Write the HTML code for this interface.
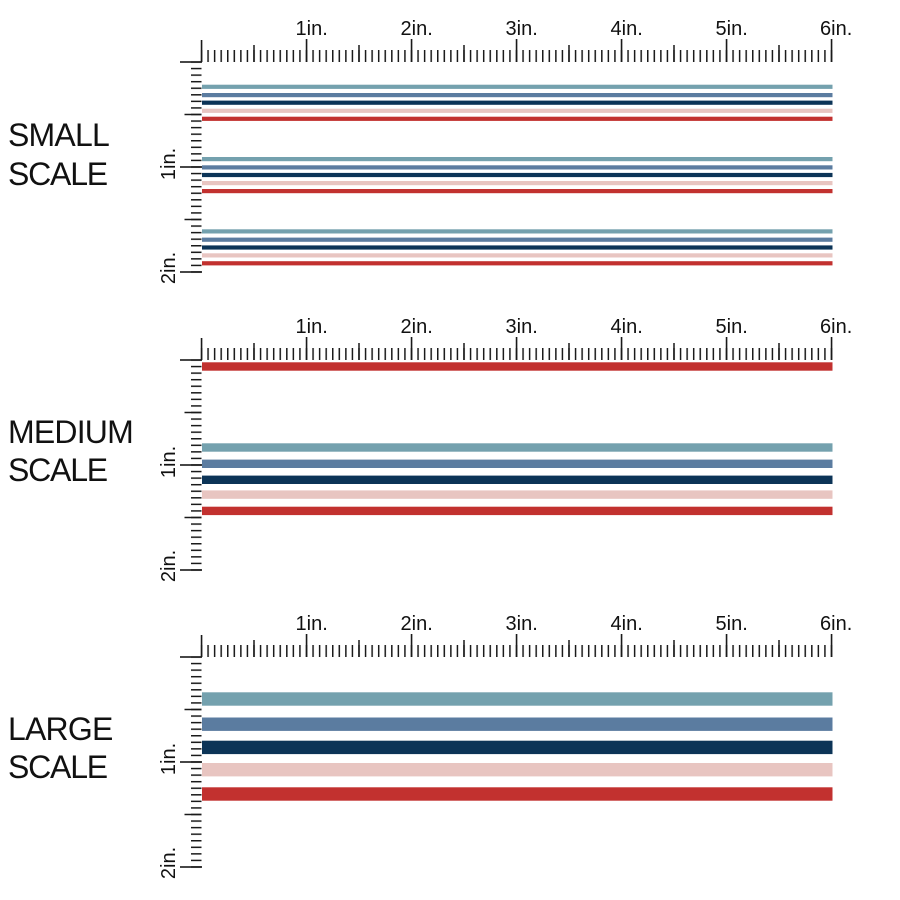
<!DOCTYPE html>
<html>
<head>
<meta charset="utf-8">
<style>
  html, body { margin: 0; padding: 0; background: #ffffff; }
  svg { display: block; }
  text { font-family: "Liberation Sans", Arial, sans-serif; fill: #111; }
</style>
</head>
<body>
<svg width="900" height="900" viewBox="0 0 900 900" xmlns="http://www.w3.org/2000/svg">
  <defs>
    <pattern id="hp" patternUnits="userSpaceOnUse" x="200.75" y="0" width="6.5625" height="40">
      <rect x="0" y="-20" width="1.5" height="80" fill="#1a1a1a"/>
    </pattern>
    <pattern id="vp" patternUnits="userSpaceOnUse" x="0" y="-0.75" width="40" height="6.5625">
      <rect x="-20" y="0" width="80" height="1.5" fill="#1a1a1a"/>
    </pattern>
    <g id="ruler" fill="#1a1a1a">
      <!-- horizontal minor ticks -->
      <rect x="200.75" y="-12" width="632" height="12" fill="url(#hp)"/>
      <!-- half inch ticks -->
      <rect x="253.25" y="-17" width="1.5" height="17"/>
      <rect x="358.25" y="-17" width="1.5" height="17"/>
      <rect x="463.25" y="-17" width="1.5" height="17"/>
      <rect x="568.25" y="-17" width="1.5" height="17"/>
      <rect x="673.25" y="-17" width="1.5" height="17"/>
      <rect x="778.25" y="-17" width="1.5" height="17"/>
      <!-- inch ticks -->
      <rect x="200.75" y="-22" width="1.6" height="22"/>
      <rect x="305.75" y="-23" width="1.6" height="23"/>
      <rect x="410.75" y="-23" width="1.6" height="23"/>
      <rect x="515.75" y="-23" width="1.6" height="23"/>
      <rect x="620.75" y="-23" width="1.6" height="23"/>
      <rect x="725.75" y="-23" width="1.6" height="23"/>
      <rect x="830.75" y="-23" width="1.6" height="23"/>
      <!-- vertical minor ticks -->
      <rect x="191" y="-0.75" width="10.5" height="212" fill="url(#vp)"/>
      <!-- vertical half inch -->
      <rect x="184.5" y="51.75" width="17" height="1.5"/>
      <rect x="184.5" y="156.75" width="17" height="1.5"/>
      <!-- vertical inch -->
      <rect x="180" y="-0.8" width="22" height="1.6"/>
      <rect x="180" y="104.2" width="22" height="1.6"/>
      <rect x="180" y="209.2" width="22" height="1.6"/>
    </g>
  </defs>

  <!-- ================= SMALL ================= -->
  <g transform="translate(0,62)">
    <use href="#ruler"/>
    <g font-size="20">
      <text x="295.5" y="-27">1in.</text>
      <text x="400.5" y="-27">2in.</text>
      <text x="505.5" y="-27">3in.</text>
      <text x="610.5" y="-27">4in.</text>
      <text x="715.5" y="-27">5in.</text>
      <text x="820" y="-27">6in.</text>
      <text x="0" y="0" text-anchor="middle" transform="translate(175,102) rotate(-90)">1in.</text>
      <text x="0" y="0" text-anchor="middle" transform="translate(175,206) rotate(-90)">2in.</text>
    </g>
  </g>
  <text x="8" y="146" font-size="32" letter-spacing="-0.8">SMALL</text>
  <text x="8" y="185" font-size="32" letter-spacing="-1.2">SCALE</text>
  <g>
    <rect x="202" y="84.7" width="630.5" height="4.2" fill="#74a1ae"/>
    <rect x="202" y="93" width="630.5" height="4.2" fill="#5b7ca0"/>
    <rect x="202" y="100.6" width="630.5" height="4.2" fill="#0c3457"/>
    <rect x="202" y="108.7" width="630.5" height="4.2" fill="#e8c5c1"/>
    <rect x="202" y="116.7" width="630.5" height="4.2" fill="#c2312f"/>

    <rect x="202" y="157" width="630.5" height="4.2" fill="#74a1ae"/>
    <rect x="202" y="165.3" width="630.5" height="4.2" fill="#5b7ca0"/>
    <rect x="202" y="172.9" width="630.5" height="4.2" fill="#0c3457"/>
    <rect x="202" y="181" width="630.5" height="4.2" fill="#e8c5c1"/>
    <rect x="202" y="189" width="630.5" height="4.2" fill="#c2312f"/>

    <rect x="202" y="229.3" width="630.5" height="4.2" fill="#74a1ae"/>
    <rect x="202" y="237.6" width="630.5" height="4.2" fill="#5b7ca0"/>
    <rect x="202" y="245.4" width="630.5" height="4.2" fill="#0c3457"/>
    <rect x="202" y="253.3" width="630.5" height="4.2" fill="#e8c5c1"/>
    <rect x="202" y="261.2" width="630.5" height="4.2" fill="#c2312f"/>
  </g>

  <!-- ================= MEDIUM ================= -->
  <g transform="translate(0,360)">
    <use href="#ruler"/>
    <g font-size="20">
      <text x="295.5" y="-27">1in.</text>
      <text x="400.5" y="-27">2in.</text>
      <text x="505.5" y="-27">3in.</text>
      <text x="610.5" y="-27">4in.</text>
      <text x="715.5" y="-27">5in.</text>
      <text x="820" y="-27">6in.</text>
      <text x="0" y="0" text-anchor="middle" transform="translate(175,102) rotate(-90)">1in.</text>
      <text x="0" y="0" text-anchor="middle" transform="translate(175,206) rotate(-90)">2in.</text>
    </g>
  </g>
  <text x="8" y="443" font-size="32" letter-spacing="-0.8">MEDIUM</text>
  <text x="8" y="481" font-size="32" letter-spacing="-1.2">SCALE</text>
  <g>
    <rect x="202" y="362.3" width="630.5" height="8.4" fill="#c2312f"/>
    <rect x="202" y="443.3" width="630.5" height="8.4" fill="#74a1ae"/>
    <rect x="202" y="459.6" width="630.5" height="8.4" fill="#5b7ca0"/>
    <rect x="202" y="475.6" width="630.5" height="8.4" fill="#0c3457"/>
    <rect x="202" y="490.4" width="630.5" height="8.4" fill="#e8c5c1"/>
    <rect x="202" y="506.7" width="630.5" height="8.4" fill="#c2312f"/>
  </g>

  <!-- ================= LARGE ================= -->
  <g transform="translate(0,657)">
    <use href="#ruler"/>
    <g font-size="20">
      <text x="295.5" y="-27">1in.</text>
      <text x="400.5" y="-27">2in.</text>
      <text x="505.5" y="-27">3in.</text>
      <text x="610.5" y="-27">4in.</text>
      <text x="715.5" y="-27">5in.</text>
      <text x="820" y="-27">6in.</text>
      <text x="0" y="0" text-anchor="middle" transform="translate(175,102) rotate(-90)">1in.</text>
      <text x="0" y="0" text-anchor="middle" transform="translate(175,206) rotate(-90)">2in.</text>
    </g>
  </g>
  <text x="8" y="740" font-size="32" letter-spacing="-0.8">LARGE</text>
  <text x="8" y="778" font-size="32" letter-spacing="-1.2">SCALE</text>
  <g>
    <rect x="202" y="692.3" width="630.5" height="13.4" fill="#74a1ae"/>
    <rect x="202" y="717.5" width="630.5" height="13.4" fill="#5b7ca0"/>
    <rect x="202" y="740.7" width="630.5" height="13.4" fill="#0c3457"/>
    <rect x="202" y="763" width="630.5" height="13.4" fill="#e8c5c1"/>
    <rect x="202" y="787.3" width="630.5" height="13.4" fill="#c2312f"/>
  </g>
</svg>
</body>
</html>
